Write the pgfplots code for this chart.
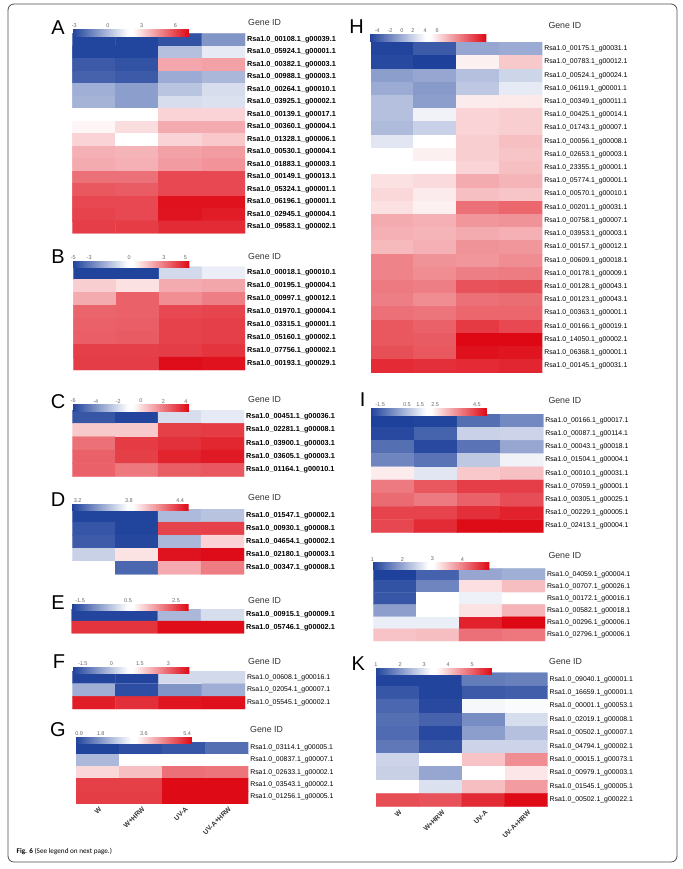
\documentclass[border=0pt]{standalone}
\usepackage{pgfplots}
\pgfplotsset{compat=1.18}
\usetikzlibrary{calc}
\usepackage{fontspec}
\setmainfont{Liberation Sans}
\newfontfamily\capfont{Carlito}
\newcommand\G[2]{Rsa1.0\_#1.1\_g#2.1}
\pgfplotsset{
  colormap={bwr}{rgb255(0pt)=(30,65,155); rgb255(48pt)=(255,255,255); rgb255(52pt)=(255,255,255); rgb255(100pt)=(222,8,20)},
  hm/.style={
    scale only axis, anchor=north west, y dir=reverse,
    xmin=-0.5, xmax=3.5, ymin=-0.5,
    axis line style={draw=none}, major tick length=0pt,
    xtick=\empty, yticklabel pos=right,
    yticklabel style={inner sep=0pt, xshift=1.8pt, anchor=west},
    colormap name=bwr,
    colorbar horizontal,
    colorbar style={
      scale only axis, width=117pt, height=6.5pt, xticklabel pos=upper,
      axis line style={draw=none}, major tick length=0pt, ytick=\empty,
      xticklabel style={font=\fontsize{5.5}{6}\selectfont, text=black!60, inner sep=1.5pt}},
  },
  cbat/.style 2 args={every colorbar/.append style={at={($(parent axis.north west)+(#1,#2)$)}, anchor=south west}},
  boldlab/.style={yticklabel style={font=\fontsize{7.3}{8}\selectfont\bfseries}},
  reglab/.style={yticklabel style={font=\fontsize{6.9}{8}\selectfont}},
  cond/.style={xtick={0,1,2,3}, xticklabels={W,W+HRW,UV-A,UV-A+HRW}, xticklabel pos=lower,
    xticklabel style={rotate=45, anchor=north east, font=\fontsize{6.8}{7}\selectfont\bfseries, text=black!80, inner sep=1pt, yshift=-2pt}},
  cells/.style={matrix plot, mesh/cols=4, point meta=explicit, faceted color=mapped color!55!white, line width=0.35pt},
}
\begin{document}
\begin{tikzpicture}
\useasboundingbox (0pt,0pt) rectangle (682pt,-869pt);
\draw[black!70, line width=0.8pt, rounded corners=6pt] (8pt,-4pt) rectangle (677pt,-862pt);

% ---------- A
\begin{axis}[hm, boldlab, at={(72.3pt,-33.3pt)}, width=172.7pt, height=200pt, ymax=15.5,
  point meta min=-3.2, point meta max=7.2, ytick={0,...,15},
  yticklabels={\G{00108}{00039},\G{05924}{00001},\G{00382}{00003},\G{00988}{00003},\G{00264}{00010},\G{03925}{00002},\G{00139}{00017},\G{00360}{00004},\G{01328}{00006},\G{00530}{00004},\G{01883}{00003},\G{00149}{00013},\G{05324}{00001},\G{06196}{00001},\G{02945}{00004},\G{09583}{00002}},
  cbat={-0.3pt}{5.3pt},
  colorbar style={height=7pt, xtick={-3,0,3,6}, xticklabels={-3,0,3,6}}]
\addplot[cells] coordinates {
(0,0)[-3.1] (1,0)[-3.1] (2,0)[-2.75] (3,0)[-0.98]
(0,1)[-3.1] (1,1)[-3.1] (2,1)[0.13] (3,1)[1.24]
(0,2)[-2.53] (1,2)[-2.75] (2,2)[4.0] (3,2)[4.1]
(0,3)[-2.32] (1,3)[-2.53] (2,3)[-0.42] (3,3)[-0.09]
(0,4)[-0.32] (1,4)[-0.76] (2,4)[0.23] (3,4)[0.9]
(0,5)[-0.2] (1,5)[-0.76] (2,5)[0.9] (3,5)[1.01]
(0,6)[2.0] (1,6)[2.0] (2,6)[3.1] (3,6)[3.1]
(0,7)[2.4] (1,7)[2.9] (2,7)[3.9] (3,7)[3.9]
(0,8)[3.1] (1,8)[2.0] (2,8)[3.1] (3,8)[3.31]
(0,9)[3.81] (1,9)[3.71] (2,9)[4.1] (3,9)[4.2]
(0,10)[3.9] (1,10)[3.81] (2,10)[4.2] (3,10)[4.4]
(0,11)[5.1] (1,11)[5.1] (2,11)[5.9] (3,11)[5.9]
(0,12)[5.6] (1,12)[5.5] (2,12)[5.9] (3,12)[5.9]
(0,13)[5.9] (1,13)[5.9] (2,13)[7.0] (3,13)[7.0]
(0,14)[6.0] (1,14)[5.9] (2,14)[6.95] (3,14)[6.8]
(0,15)[6.1] (1,15)[6.15] (2,15)[6.5] (3,15)[6.5]
};
\end{axis}

% ---------- B
\begin{axis}[hm, boldlab, at={(73.3pt,-266.7pt)}, width=171.7pt, height=103.3pt, ymax=7.5,
  point meta min=-5.1, point meta max=5.5, ytick={0,...,7},
  yticklabels={\G{00018}{00010},\G{00195}{00004},\G{00997}{00012},\G{01970}{00004},\G{03315}{00001},\G{05160}{00002},\G{07756}{00002},\G{00193}{00029}},
  cbat={-1pt}{7.7pt},
  colorbar style={xtick={-5.01,-3.57,0.04,3.19,5.14}, xticklabels={-5,-3,0,3,5}}]
\addplot[cells] coordinates {
(0,0)[-5.05] (1,0)[-5.05] (2,0)[-1.03] (3,0)[-0.47]
(0,1)[1.43] (1,1)[1.03] (2,1)[2.14] (3,1)[2.25]
(0,2)[2.14] (1,2)[3.67] (2,2)[2.74] (3,2)[3.06]
(0,3)[3.6] (1,3)[3.67] (2,3)[4.18] (3,3)[4.25]
(0,4)[3.67] (1,4)[3.7] (2,4)[4.3] (3,4)[4.35]
(0,5)[3.7] (1,5)[3.8] (2,5)[4.3] (3,5)[4.35]
(0,6)[4.35] (1,6)[4.35] (2,6)[4.4] (3,6)[4.6]
(0,7)[4.4] (1,7)[4.4] (2,7)[5.4] (3,7)[5.3]
};
\end{axis}

% ---------- C
\begin{axis}[hm, boldlab, at={(72.3pt,-410pt)}, width=171.7pt, height=66.7pt, ymax=4.5,
  point meta min=-6.1, point meta max=4.27, ytick={0,...,4},
  yticklabels={\G{00451}{00036},\G{02281}{00008},\G{03900}{00003},\G{03605}{00003},\G{01164}{00010}},
  cbat={-0.3pt}{7.3pt},
  colorbar style={xtick={-6,-4,-2,0,2,4}, xticklabels={-6,-4,-2,0,2,4}}]
\addplot[cells] coordinates {
(0,0)[-5.55] (1,0)[-6.0] (2,0)[-2.0] (3,0)[-1.67]
(0,1)[0.39] (1,1)[0.39] (2,1)[3.17] (3,1)[3.25]
(0,2)[2.18] (1,2)[3.25] (2,2)[3.45] (3,2)[3.65]
(0,3)[2.48] (1,3)[3.17] (2,3)[3.7] (3,3)[3.9]
(0,4)[2.48] (1,4)[2.0] (2,4)[2.55] (3,4)[2.65]
};
\end{axis}

% ---------- D
\begin{axis}[hm, boldlab, at={(72.3pt,-509pt)}, width=171.7pt, height=65.3pt, ymax=4.5,
  point meta min=3.13, point meta max=4.5, ytick={0,...,4},
  yticklabels={\G{01547}{00002},\G{00930}{00008},\G{04654}{00002},\G{02180}{00003},\G{00347}{00008}},
  cbat={-0.6pt}{6.7pt},
  colorbar style={xtick={3.2,3.8,4.4}, xticklabels={3.2,3.8,4.4}}]
\addplot[cells] coordinates {
(0,0)[3.14] (1,0)[3.14] (2,0)[3.55] (3,0)[3.58]
(0,1)[3.20] (1,1)[3.14] (2,1)[4.34] (3,1)[4.35]
(0,2)[3.22] (1,2)[3.15] (2,2)[3.54] (3,2)[3.96]
(0,3)[3.63] (1,3)[3.92] (2,3)[4.47] (3,3)[4.49]
(0,4)[3.81] (1,4)[3.26] (2,4)[4.07] (3,4)[4.19]
};
\end{axis}

% ---------- E
\begin{axis}[hm, boldlab, at={(71.7pt,-609pt)}, width=172.3pt, height=24.3pt, ymax=1.5,
  point meta min=-1.85, point meta max=3.03, ytick={0,1},
  yticklabels={\G{00915}{00009},\G{05746}{00002}},
  cbat={0pt}{6.7pt},
  colorbar style={xtick={-1.5,0.5,2.5}, xticklabels={-1.5,0.5,2.5}}]
\addplot[cells] coordinates {
(0,0)[-1.8] (1,0)[-1.8] (2,0)[-0.39] (3,0)[0.07]
(0,1)[2.61] (1,1)[2.61] (2,1)[2.98] (3,1)[2.98]
};
\end{axis}

% ---------- F
\begin{axis}[hm, reglab, at={(72.3pt,-671pt)}, width=172.7pt, height=38pt, ymax=2.5,
  point meta min=-2.05, point meta max=4.1, ytick={0,1,2},
  yticklabels={\G{00608}{00016},\G{02054}{00007},\G{05545}{00002}},
  cbat={0pt}{6pt},
  colorbar style={xtick={-1.5,0,1.5,3}, xticklabels={-1.5,0,1.5,3}}]
\addplot[cells] coordinates {
(0,0)[-2.0] (1,0)[-2.0] (2,0)[0.31] (3,0)[0.31]
(0,1)[-0.35] (1,1)[-1.85] (2,1)[-0.74] (3,1)[-0.35]
(0,2)[3.85] (1,2)[3.63] (2,2)[3.95] (3,2)[4.0]
};
\end{axis}

% ---------- G
\begin{axis}[hm, reglab, cond, at={(75.7pt,-741.7pt)}, width=172.6pt, height=61.6pt, ymax=4.5,
  point meta min=0.73, point meta max=5.6, ytick={0,...,4},
  yticklabels={\G{03114}{00005},\G{00837}{00007},\G{02633}{00002},\G{03543}{00002},\G{01256}{00005}},
  cbat={-0.7pt}{6.7pt},
  colorbar style={xtick={0.9,1.8,3.6,5.4}, xticklabels={0.9,1.8,3.6,5.4}}]
\addplot[cells] coordinates {
(0,0)[0.75] (1,0)[0.89] (2,0)[0.99] (3,0)[1.30]
(0,1)[2.19] (1,1)[3.15] (2,1)[3.15] (3,1)[3.15]
(0,2)[3.64] (1,2)[3.87] (2,2)[4.62] (3,2)[4.58]
(0,3)[5.08] (1,3)[5.08] (2,3)[5.58] (3,3)[5.58]
(0,4)[5.1] (1,4)[5.1] (2,4)[5.58] (3,4)[5.57]
};
\end{axis}

% ---------- H
\begin{axis}[hm, reglab, at={(370.7pt,-42.3pt)}, width=171.6pt, height=330.4pt, ymax=24.5,
  point meta min=-5, point meta max=7, ytick={0,...,24},
  yticklabels={\G{00175}{00031},\G{00783}{00012},\G{00524}{00024},\G{06119}{00001},\G{00349}{00011},\G{00425}{00014},\G{01743}{00007},\G{00056}{00008},\G{02653}{00003},\G{23355}{00001},\G{05774}{00001},\G{00570}{00010},\G{00201}{00031},\G{00758}{00007},\G{03953}{00003},\G{00157}{00012},\G{00609}{00018},\G{00178}{00009},\G{00128}{00043},\G{00123}{00043},\G{00363}{00001},\G{00166}{00019},\G{14050}{00002},\G{06368}{00001},\G{00145}{00031}},
  cbat={-1.4pt}{9pt},
  colorbar style={height=7.5pt, xtick={-4.18,-2.87,-1.66,-0.53,0.74,1.95}, xticklabels={-4,-2,0,2,4,6}}]
\addplot[cells] coordinates {
(0,0)[-4.9] (1,0)[-4.23] (2,0)[-1.93] (3,0)[-1.8]
(0,1)[-4.76] (1,1)[-5.0] (2,1)[1.59] (3,1)[2.51]
(0,2)[-2.18] (1,2)[-1.93] (2,2)[-1.16] (3,2)[-0.52]
(0,3)[-1.8] (1,3)[-2.31] (2,3)[-0.91] (3,3)[0.12]
(0,4)[-1.16] (1,4)[-2.18] (2,4)[1.7] (3,4)[1.76]
(0,5)[-1.16] (1,5)[0.38] (2,5)[2.27] (3,5)[2.39]
(0,6)[-1.29] (1,6)[-0.64] (2,6)[2.27] (3,6)[2.39]
(0,7)[-0.01] (1,7)[1.0] (2,7)[2.39] (3,7)[2.74]
(0,8)[1.0] (1,8)[1.59] (2,8)[2.39] (3,8)[2.62]
(0,9)[1.0] (1,9)[1.0] (2,9)[2.27] (3,9)[2.74]
(0,10)[1.94] (1,10)[2.1] (2,10)[3.2] (3,10)[2.97]
(0,11)[2.16] (1,11)[1.7] (2,11)[2.74] (3,11)[2.62]
(0,12)[1.94] (1,12)[1.59] (2,12)[4.58] (3,12)[4.81]
(0,13)[3.2] (1,13)[3.09] (2,13)[3.66] (3,13)[3.77]
(0,14)[3.09] (1,14)[2.97] (2,14)[3.2] (3,14)[3.09]
(0,15)[2.85] (1,15)[3.09] (2,15)[3.77] (3,15)[3.66]
(0,16)[4.12] (1,16)[3.77] (2,16)[3.66] (3,16)[3.89]
(0,17)[4.12] (1,17)[3.89] (2,17)[4.24] (3,17)[4.3]
(0,18)[4.35] (1,18)[4.24] (2,18)[5.27] (3,18)[5.35]
(0,19)[4.24] (1,19)[3.89] (2,19)[4.58] (3,19)[4.65]
(0,20)[4.58] (1,20)[4.47] (2,20)[4.81] (3,20)[4.81]
(0,21)[5.15] (1,21)[4.92] (2,21)[5.85] (3,21)[5.5]
(0,22)[5.15] (1,22)[5.06] (2,22)[7.0] (3,22)[7.0]
(0,23)[5.35] (1,23)[5.15] (2,23)[6.8] (3,23)[6.7]
(0,24)[6.2] (1,24)[6.1] (2,24)[6.2] (3,24)[6.3]
};
\end{axis}

% ---------- I
\begin{axis}[hm, reglab, at={(371pt,-414pt)}, width=172.3pt, height=118.7pt, ymax=8.5,
  point meta min=-2.2, point meta max=5.1, ytick={0,...,8},
  yticklabels={\G{00166}{00017},\G{00087}{00114},\G{00043}{00018},\G{01504}{00004},\G{00010}{00031},\G{07059}{00001},\G{00305}{00025},\G{00229}{00005},\G{02413}{00004}},
  cbat={-1pt}{7.3pt},
  colorbar style={xtick={-1.57,0.10,0.93,1.87,4.47}, xticklabels={-1.5,0.5,1.5,2.5,4.5}}]
\addplot[cells] coordinates {
(0,0)[-2.2] (1,0)[-2.15] (2,0)[-1.35] (3,0)[-0.88]
(0,1)[-2.05] (1,1)[-1.58] (2,1)[0.45] (3,1)[0.52]
(0,2)[-1.35] (1,2)[-2.05] (2,2)[-1.27] (3,2)[-0.33]
(0,3)[-0.95] (1,3)[-1.27] (2,3)[0.29] (3,3)[1.07]
(0,4)[1.87] (1,4)[0.84] (2,4)[2.37] (3,4)[2.51]
(0,5)[3.49] (1,5)[3.98] (2,5)[4.33] (3,5)[4.33]
(0,6)[3.7] (1,6)[3.49] (2,6)[3.84] (3,6)[4.12]
(0,7)[4.26] (1,7)[4.26] (2,7)[4.54] (3,7)[4.75]
(0,8)[4.2] (1,8)[4.6] (2,8)[5.05] (3,8)[5.05]
};
\end{axis}

% ---------- J
\begin{axis}[hm, reglab, at={(373.3pt,-568.3pt)}, width=171.7pt, height=72.7pt, ymax=5.5,
  point meta min=1, point meta max=4.9, ytick={0,...,5},
  yticklabels={\G{04059}{00004},\G{00707}{00026},\G{00172}{00016},\G{00582}{00018},\G{00296}{00006},\G{02796}{00006}},
  cbat={-1pt}{7.6pt},
  colorbar style={xtick={1,2,3,4}, xticklabels={1,2,3,4}}]
\addplot[cells] coordinates {
(0,0)[1.0] (1,0)[1.33] (2,0)[2.0] (3,0)[2.08]
(0,1)[1.17] (1,1)[1.67] (2,1)[3.27] (3,1)[3.52]
(0,2)[1.21] (1,2)[2.95] (2,2)[2.73] (3,2)[2.95]
(0,3)[1.92] (1,3)[2.95] (2,3)[3.25] (3,3)[3.59]
(0,4)[2.7] (1,4)[2.7] (2,4)[4.71] (3,4)[4.9]
(0,5)[3.48] (1,5)[3.52] (2,5)[4.11] (3,5)[4.06]
};
\end{axis}

% ---------- K
\begin{axis}[hm, reglab, cond, at={(376pt,-672.7pt)}, width=171.7pt, height=134pt, ymax=9.5,
  point meta min=0.96, point meta max=5.82, ytick={0,...,9},
  yticklabels={\G{09040}{00001},\G{16659}{00001},\G{00001}{00053},\G{02019}{00008},\G{00502}{00007},\G{04794}{00002},\G{00015}{00073},\G{00979}{00003},\G{01545}{00005},\G{00502}{00022}},
  cbat={-1pt}{6.7pt},
  colorbar style={xtick={1,2,3,4,5}, xticklabels={1,2,3,4,5}}]
\addplot[cells] coordinates {
(0,0)[1.0] (1,0)[1.0] (2,0)[1.68] (3,0)[1.73]
(0,1)[1.22] (1,1)[1.0] (2,1)[1.27] (3,1)[1.32]
(0,2)[1.43] (1,2)[1.06] (2,2)[3.19] (3,2)[3.24]
(0,3)[1.53] (1,3)[1.37] (2,3)[1.89] (3,3)[2.87]
(0,4)[1.48] (1,4)[1.06] (2,4)[2.10] (3,4)[2.52]
(0,5)[1.64] (1,5)[1.22] (2,5)[2.77] (3,5)[2.77]
(0,6)[2.77] (1,6)[3.39] (2,6)[4.05] (3,6)[4.56]
(0,7)[2.72] (1,7)[2.2] (2,7)[3.39] (3,7)[3.72]
(0,8)[3.39] (1,8)[2.93] (2,8)[4.1] (3,8)[4.42]
(0,9)[5.17] (1,9)[5.12] (2,9)[5.49] (3,9)[5.8]
};
\end{axis}

% ---------- texts
\begin{scope}[every node/.style={inner sep=0pt, anchor=west, font=\fontsize{8.8}{10}\selectfont, text=black!80}]
\node at (248pt,-22pt) {Gene ID};
\node at (248pt,-256.7pt) {Gene ID};
\node at (248pt,-399pt) {Gene ID};
\node at (248pt,-497.3pt) {Gene ID};
\node at (248pt,-600pt) {Gene ID};
\node at (248pt,-661.7pt) {Gene ID};
\node at (250pt,-729.3pt) {Gene ID};
\node at (548.3pt,-25.7pt) {Gene ID};
\node at (548.3pt,-400.7pt) {Gene ID};
\node at (548.3pt,-555pt) {Gene ID};
\node at (549pt,-661pt) {Gene ID};
\end{scope}
\begin{scope}[every node/.style={inner sep=0pt, anchor=center, font=\fontsize{20}{22}\selectfont}]
\node at (58pt,-28pt) {A};
\node at (58pt,-256.7pt) {B};
\node at (58pt,-401.7pt) {C};
\node at (58pt,-500pt) {D};
\node at (58pt,-603pt) {E};
\node at (59pt,-661.7pt) {F};
\node at (58pt,-730pt) {G};
\node at (356.7pt,-26.7pt) {H};
\node at (362.7pt,-400pt) {I};
\node at (358.3pt,-663.3pt) {K};
\end{scope}
\node[anchor=west, inner sep=0pt] at (16.5pt,-851.7pt) {\capfont\fontsize{7.2}{8}\selectfont\textbf{Fig. 6} (See legend on next page.)};
\end{tikzpicture}
\end{document}
